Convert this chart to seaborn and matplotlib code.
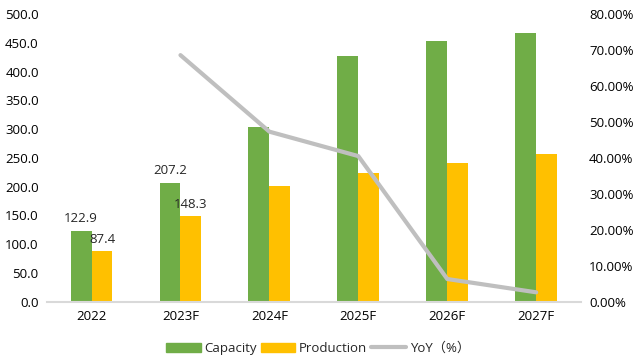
import matplotlib
matplotlib.use("Agg")
import matplotlib.pyplot as plt
import matplotlib.ticker as mticker
from matplotlib.patches import Patch
from matplotlib.lines import Line2D
import pandas as pd
import numpy as np
import seaborn as sns

years = ["2022", "2023F", "2024F", "2025F", "2026F", "2027F"]
capacity = [122.9, 207.2, 304.5, 428.0, 454.0, 467.0]
production = [87.4, 148.3, 200.3, 223.5, 241.0, 257.0]
yoy = [np.nan, 68.6, 47.3, 40.5, 6.3, 2.6]
labelled = ["2022", "2023F"]

GREEN = "#70AD47"
YELLOW = "#FFC000"
GREY = "#BFBFBF"

sns.set_style("white")
plt.rcParams["font.family"] = ["Open Sans", "Noto Sans CJK SC", "DejaVu Sans"]

df = pd.DataFrame({
    "year": years * 2,
    "value": capacity + production,
    "series": ["Capacity"] * len(years) + ["Production"] * len(years),
})
df_yoy = pd.DataFrame({"year": years, "yoy": yoy})

fig = plt.figure(figsize=(6.36, 3.63), dpi=100)
ax = fig.add_axes([0.074, 0.169, 0.839, 0.792])

sns.barplot(data=df, x="year", y="value", hue="series", order=years,
            palette=[GREEN, YELLOW], saturation=1, width=0.47, linewidth=0,
            ax=ax, legend=False)
ax.set_ylim(0, 500)
ax.set_yticks(np.arange(0, 501, 50))
ax.yaxis.set_major_formatter(mticker.FormatStrFormatter("%.1f"))
ax.set_xlabel("")
ax.set_ylabel("")
for s in ["top", "right", "left"]:
    ax.spines[s].set_visible(False)
ax.spines["bottom"].set_color("#D9D9D9")
ax.spines["bottom"].set_linewidth(1.5)
ax.tick_params(axis="both", length=0, labelsize=9.5, colors="#000000", pad=6)

# data labels only for the first two years
for cont in ax.containers:
    for bar, yr in zip(cont, years):
        if yr in labelled:
            ax.annotate(f"{bar.get_height():.1f}",
                        (bar.get_x() + bar.get_width() * 0.5, bar.get_height()),
                        xytext=(0, 4), textcoords="offset points",
                        ha="center", va="bottom", fontsize=9.5)

ax2 = ax.twinx()
sns.pointplot(data=df_yoy, x="year", y="yoy", order=years, ax=ax2,
              color=GREY, markers="", linewidth=3, errorbar=None)
ax2.set_ylim(0, 80)
ax2.set_yticks(np.arange(0, 81, 10))
ax2.yaxis.set_major_formatter(mticker.FuncFormatter(lambda v, p: f"{v:.2f}%"))
ax2.set_ylabel("")
ax2.set_xlabel("")
for s in ["top", "right", "left", "bottom"]:
    ax2.spines[s].set_visible(False)
ax2.tick_params(axis="both", length=0, labelsize=9.5, colors="#000000", pad=6)
ax.set_xlim(-0.5, len(years) - 0.5)

handles = [Patch(color=GREEN, label="Capacity"),
           Patch(color=YELLOW, label="Production"),
           Line2D([0], [0], color=GREY, linewidth=3, label="YoY\uff08%\uff09")]
fig.legend(handles=handles, loc="lower center", bbox_to_anchor=(0.5, -0.01),
           ncol=3, frameon=False, fontsize=9.5, handlelength=2.6,
           handleheight=0.7, columnspacing=0.3, handletextpad=0.3)

fig.savefig("out.png", dpi=100)
